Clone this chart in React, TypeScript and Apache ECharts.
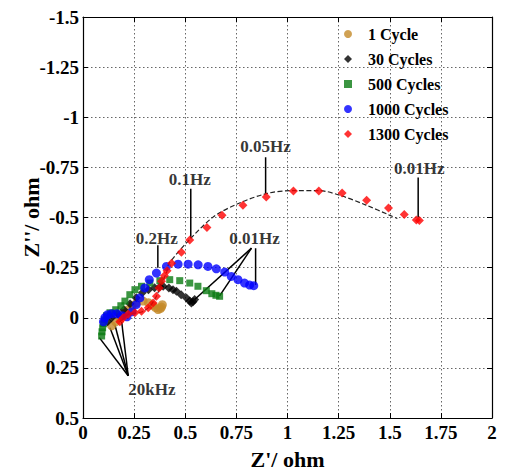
import React, { useEffect, useRef } from "react";
import * as echarts from "echarts";

const FONT = "'Liberation Serif', 'Times New Roman', serif";

const xTicks = { min: 0, max: 2, interval: 0.25 };
const yTicks = { min: -1.5, max: 0.5, interval: 0.25 };

const seriesNames = ["1 Cycle", "30 Cycles", "500 Cycles", "1000 Cycles", "1300 Cycles"];

const cycle1 = [
  [0.14, 0.04], [0.16, 0.02], [0.18, 0.0], [0.2, -0.02], [0.22, -0.04], [0.24, -0.06],
  [0.262, -0.074], [0.294, -0.083], [0.32, -0.075], [0.34, -0.062], [0.355, -0.05],
  [0.367, -0.041], [0.378, -0.045], [0.384, -0.053], [0.388, -0.065],
];

const cycle30 = [
  [0.12, 0.02], [0.14, 0.0], [0.17, -0.02], [0.2, -0.04], [0.23, -0.07], [0.26, -0.1],
  [0.29, -0.125], [0.32, -0.14], [0.35, -0.15], [0.376, -0.155], [0.392, -0.157],
  [0.42, -0.148], [0.44, -0.14], [0.457, -0.132], [0.48, -0.115], [0.506, -0.099],
  [0.522, -0.083], [0.53, -0.074], [0.538, -0.08], [0.546, -0.091],
];

const cycle500 = [
  [0.091, 0.091], [0.093, 0.07], [0.096, 0.05], [0.1, 0.03], [0.105, 0.01], [0.115, -0.01],
  [0.132, -0.025], [0.16, -0.04], [0.185, -0.06], [0.205, -0.083], [0.229, -0.115],
  [0.254, -0.14], [0.286, -0.157], [0.327, -0.173], [0.376, -0.185], [0.424, -0.19],
  [0.473, -0.185], [0.522, -0.173], [0.562, -0.157], [0.603, -0.135], [0.63, -0.12],
  [0.65, -0.112], [0.668, -0.107],
];

const cycle1000 = [
  [0.1, 0.02], [0.107, 0.0], [0.12, -0.015], [0.14, -0.02], [0.165, -0.02], [0.19, -0.01],
  [0.215, -0.005], [0.24, -0.03], [0.26, -0.065], [0.278, -0.099], [0.302, -0.149],
  [0.324, -0.19], [0.359, -0.223], [0.408, -0.256], [0.465, -0.267], [0.514, -0.267],
  [0.563, -0.264], [0.611, -0.256], [0.652, -0.244], [0.693, -0.228], [0.725, -0.206],
  [0.758, -0.19], [0.79, -0.173], [0.815, -0.163], [0.835, -0.16],
];

const cycle1300 = [
  [0.18, 0.02], [0.197, 0.0], [0.221, -0.017], [0.254, -0.025], [0.286, -0.033],
  [0.319, -0.05], [0.343, -0.074], [0.359, -0.107], [0.372, -0.149], [0.384, -0.182],
  [0.398, -0.21], [0.411, -0.234], [0.433, -0.272], [0.481, -0.327], [0.522, -0.388],
  [0.606, -0.45], [0.68, -0.511], [0.782, -0.561], [0.896, -0.602], [1.029, -0.632],
  [1.153, -0.632], [1.267, -0.622], [1.387, -0.586], [1.494, -0.548], [1.571, -0.515],
  [1.63, -0.488], [1.645, -0.485],
];

const fit1300 = [
  [0.18, 0.02], [0.22, -0.015], [0.29, -0.03], [0.33, -0.06], [0.36, -0.11], [0.38, -0.16],
  [0.41, -0.23], [0.42, -0.27], [0.527, -0.396], [0.64, -0.505], [0.76, -0.57],
  [0.9, -0.62], [1.024, -0.634], [1.156, -0.634], [1.267, -0.607], [1.384, -0.562],
  [1.498, -0.512], [1.537, -0.495],
];

const annotationTexts = [
  { text: "20kHz", at: [0.337, 0.356] },
  { text: "0.2Hz", at: [0.361, -0.396] },
  { text: "0.1Hz", at: [0.522, -0.688] },
  { text: "0.05Hz", at: [0.893, -0.856] },
  { text: "0.01Hz", at: [1.644, -0.743] },
  { text: "0.01Hz", at: [0.839, -0.396] },
];

const annotationSegments = [
  [[0.221, 0.289], [0.08, 0.099]],
  [[0.221, 0.289], [0.132, 0.05]],
  [[0.221, 0.289], [0.156, 0.035]],
  [[0.221, 0.289], [0.189, 0.02]],
  [[0.366, -0.362], [0.366, -0.25]],
  [[0.527, -0.644], [0.527, -0.396]],
  [[0.893, -0.8], [0.893, -0.62]],
  [[1.639, -0.7], [1.639, -0.5]],
  [[0.824, -0.347], [0.546, -0.091]],
  [[0.824, -0.347], [0.668, -0.109]],
  [[0.844, -0.347], [0.844, -0.163]],
];

const colors = ["#c48a28", "#000000", "#0a7a12", "#0000ff", "#ff0000"];
const symbols = ["circle", "diamond", "rect", "circle", "diamond"];
const dataSets = [cycle1, cycle30, cycle500, cycle1000, cycle1300];

export default function App() {
  const ref = useRef<HTMLDivElement>(null);
  useEffect(() => {
    const chart = echarts.init(ref.current!, null, { renderer: "svg" });
    const labelStyle = { fontFamily: FONT, fontWeight: "bold" as const, fontSize: 19, color: "#000" };
    const axisCommon = {
      axisLine: { show: true, onZero: false, lineStyle: { color: "#000", width: 1.2 } },
      axisTick: { show: true, inside: true, length: 5, lineStyle: { color: "#000" } },
    };
    const gridLine = { show: true, lineStyle: { color: "#666", type: [1.5, 2.5], width: 1 } };
    const series: any[] = [];
    annotationSegments.forEach((seg) => {
      series.push({
        type: "line",
        data: seg,
        symbol: "none",
        silent: true,
        lineStyle: { color: "#000", width: 1.5 },
        z: 1,
      });
    });
    series.push({
      type: "line",
      data: fit1300,
      symbol: "none",
      smooth: 0.3,
      silent: true,
      lineStyle: { color: "#222", width: 1.2, type: "dashed" },
      z: 3,
    });
    dataSets.forEach((d, i) => {
      series.push({
        name: seriesNames[i],
        type: "scatter",
        data: d,
        symbol: symbols[i],
        symbolSize: symbols[i] === "rect" ? 7 : 9,
        itemStyle: { color: colors[i] },
        z: 2 + i,
      });
    });
    series.push({
      type: "scatter",
      data: annotationTexts.map((a) => [a.at[0], a.at[1], a.text]),
      symbolSize: 0,
      silent: true,
      label: {
        show: true,
        position: "inside",
        formatter: (p: any) => p.data[2],
        fontFamily: FONT,
        fontWeight: "bold",
        fontSize: 17,
        color: "#000",
      },
      z: 10,
    });

    chart.setOption({
      animation: false,
      backgroundColor: "#fff",
      grid: { left: 83, right: 14, top: 17, bottom: 54 },
      legend: {
        data: seriesNames.map((n, i) => ({ name: n, icon: symbols[i] })),
        orient: "vertical",
        left: 339,
        top: 21,
        itemGap: 9,
        itemWidth: 8,
        itemHeight: 8,
        textStyle: {
          fontFamily: FONT,
          fontWeight: "bold",
          fontSize: 16,
          color: "#000",
          padding: [0, 0, 0, 11],
        },
      },
      xAxis: [
        {
          type: "value",
          ...xTicks,
          name: "Z'/ ohm",
          nameLocation: "middle",
          nameGap: 30,
          nameMoveOverlap: false,
          nameTextStyle: { fontFamily: FONT, fontWeight: "bold", fontSize: 22, color: "#000" },
          axisLabel: { ...labelStyle, margin: 5 },
          splitLine: gridLine,
          ...axisCommon,
        },
        {
          type: "value",
          ...xTicks,
          position: "top",
          axisLabel: { show: false },
          splitLine: { show: false },
          ...axisCommon,
        },
      ],
      yAxis: [
        {
          type: "value",
          ...yTicks,
          inverse: true,
          name: "Z''/ ohm",
          nameLocation: "middle",
          nameGap: 41,
          nameMoveOverlap: false,
          nameTextStyle: { fontFamily: FONT, fontWeight: "bold", fontSize: 22, color: "#000" },
          axisLabel: { ...labelStyle, margin: 4 },
          splitLine: gridLine,
          ...axisCommon,
        },
        {
          type: "value",
          ...yTicks,
          inverse: true,
          position: "right",
          axisLabel: { show: false },
          splitLine: { show: false },
          ...axisCommon,
        },
      ],
      series,
    });
    return () => chart.dispose();
  }, []);
  return <div ref={ref} style={{ position: "fixed", left: 0, top: 0, width: 506, height: 475 }} />;
}
